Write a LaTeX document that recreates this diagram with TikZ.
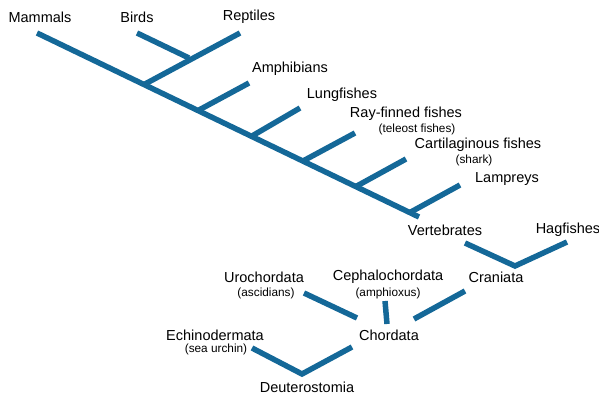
\documentclass[tikz,border=0pt]{standalone}
\usepackage{fontspec}
\setmainfont{Liberation Sans}
\definecolor{branch}{RGB}{20,104,152}
\tikzset{
  br/.style={draw=branch, line width=5.5pt, line cap=butt},
  lab/.style={inner sep=0pt, font=\fontsize{14.5}{16}\selectfont},
  sub/.style={inner sep=0pt, font=\fontsize{11.8}{13}\selectfont}
}
\begin{document}
\begin{tikzpicture}[x=1pt,y=-1pt]
\useasboundingbox (0,0) rectangle (599,396);
% labels
\node[lab] (mammals) at (40,17) {Mammals};
\node[lab] (birds) at (137,17) {Birds};
\node[lab] (reptiles) at (249,17) {Reptiles};
\node[lab] (amph) at (290,69) {Amphibians};
\node[lab] (lung) at (342,95) {Lungfishes};
\node[lab] (ray) at (406,114) {Ray-finned fishes};
\node[sub] (teleost) at (417,129) {(teleost fishes)};
\node[lab] (cart) at (478,145) {Cartilaginous fishes};
\node[sub] (shark) at (474,160) {(shark)};
\node[lab] (lamp) at (507,179) {Lampreys};
\node[lab] (vert) at (445,230) {Vertebrates};
\node[lab] (hag) at (568,230) {Hagfishes};
\node[lab] (cran) at (496,277) {Craniata};
\node[lab] (uro) at (264,277) {Urochordata};
\node[sub] (asc) at (266,293) {(ascidians)};
\node[lab] (ceph) at (388,277) {Cephalochordata};
\node[sub] (amphx) at (388,293) {(amphioxus)};
\node[lab] (chord) at (389,335) {Chordata};
\node[lab] (echino) at (215,335) {Echinodermata};
\node[sub] (urchin) at (216,349) {(sea urchin)};
\node[lab] (deut) at (307,387) {Deuterostomia};
% tree coordinates
\coordinate (tMam) at (37,33);
\coordinate (tEnd) at (419,217);
\coordinate (tBird) at (137,33);
\coordinate (jBird) at (189,58);
\coordinate (tRep) at (240,33);
\coordinate (jRep) at (145,84);
\coordinate (tAmph) at (249,83);
\coordinate (jAmph) at (199,110);
\coordinate (tLung) at (300,108);
\coordinate (jLung) at (252,136);
\coordinate (tRay) at (355,133);
\coordinate (jRay) at (303,161);
\coordinate (tCart) at (406,159);
\coordinate (jCart) at (355,187);
\coordinate (tLamp) at (460,185);
\coordinate (jLamp) at (409,213);
% trunk and branches
\draw[br] (tMam) -- (tEnd);
\draw[br] (tBird) -- (jBird);
\draw[br] (tRep) -- (jRep);
\draw[br] (tAmph) -- (jAmph);
\draw[br] (tLung) -- (jLung);
\draw[br] (tRay) -- (jRay);
\draw[br] (tCart) -- (jCart);
\draw[br] (tLamp) -- (jLamp);
% lower connectors
\coordinate (vA) at (465,243);
\coordinate (vB) at (515,266);
\coordinate (hA) at (567,242);
\draw[br] (vA) -- (vB) -- (hA);
\coordinate (uA) at (304,293);
\coordinate (uB) at (357,318);
\draw[br] (uA) -- (uB);
\coordinate (cA) at (385,301);
\coordinate (cB) at (387,324);
\draw[br] (cA) -- (cB);
\coordinate (kA) at (465,291);
\coordinate (kB) at (414,319);
\draw[br] (kA) -- (kB);
\coordinate (eA) at (252,348);
\coordinate (dB) at (302,374);
\coordinate (dA) at (352,347);
\draw[br] (eA) -- (dB) -- (dA);
\end{tikzpicture}
\end{document}
